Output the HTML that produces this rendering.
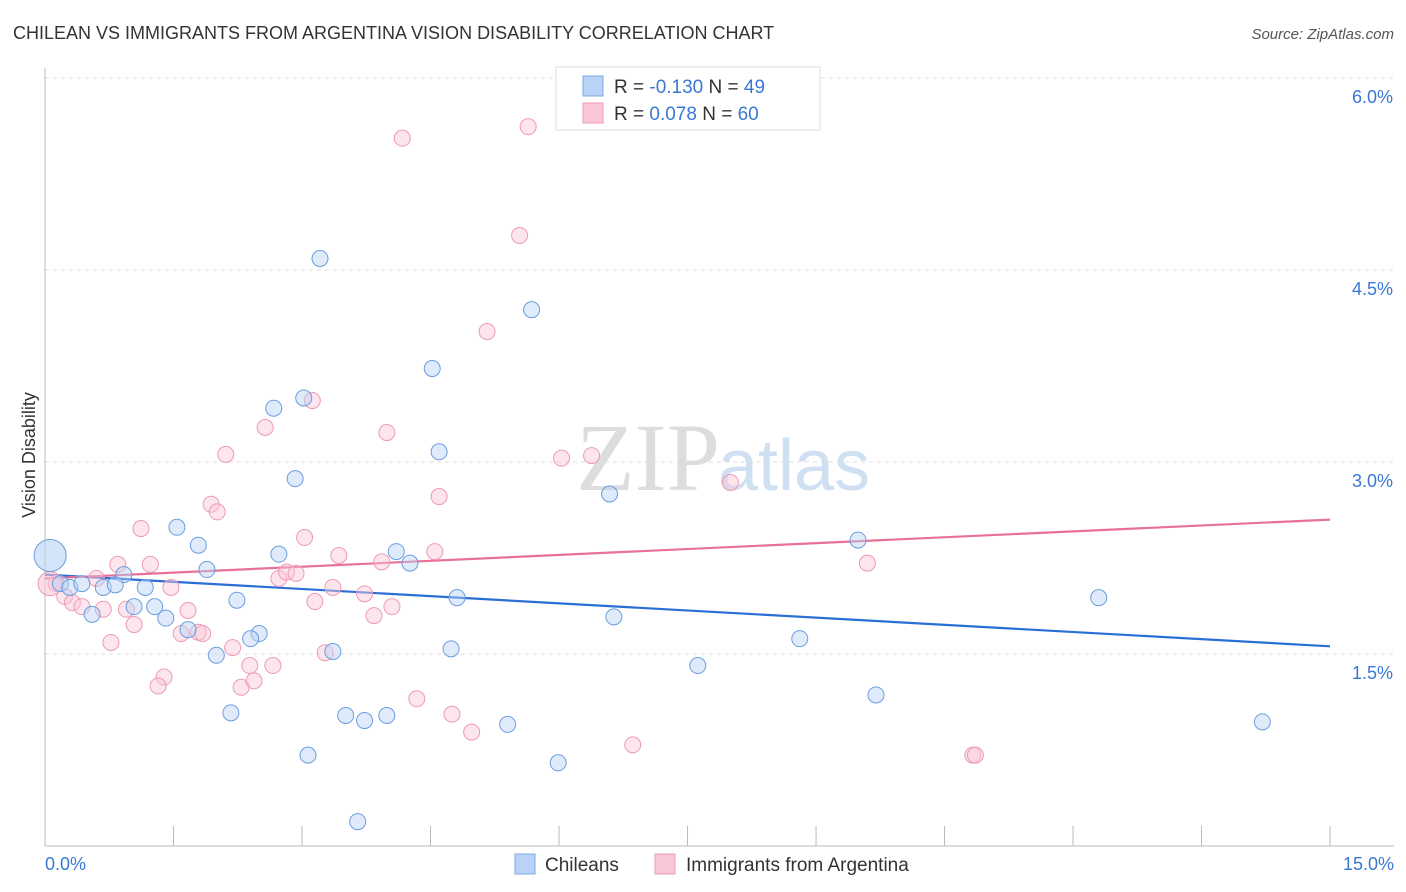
<!DOCTYPE html>
<html><head><meta charset="utf-8"><style>
body{margin:0;background:#fff;font-family:"Liberation Sans",sans-serif;}
#wrap{position:relative;width:1406px;height:892px;overflow:hidden;}
</style></head><body>
<div id="wrap">
<svg id="chart" width="1406" height="892" xmlns="http://www.w3.org/2000/svg">
<text x="13" y="39" font-size="18" fill="#333">CHILEAN VS IMMIGRANTS FROM ARGENTINA VISION DISABILITY CORRELATION CHART</text>
<text x="1394" y="39" font-size="15" fill="#555" font-style="italic" text-anchor="end">Source: ZipAtlas.com</text>
<text x="720" y="490" font-size="96" fill="#ddd" font-family="Liberation Serif,serif" text-anchor="end">ZIP</text>
<text x="718" y="490" font-size="72" fill="#cfe0f2">atlas</text>
<g id="grid"></g><g id="axes"></g><g id="trend"></g><g id="pts"></g>
<text x="35" y="455" font-size="18" fill="#333" text-anchor="middle" transform="rotate(-90 35 455)">Vision Disability</text>
<text x="45" y="870" font-size="18" fill="#3a78d4">0.0%</text>
<text x="1394" y="870" font-size="18" fill="#3a78d4" text-anchor="end">15.0%</text>
<g>
<rect x="556" y="67" width="264" height="63" fill="#fff" stroke="#ddd"/>
<rect x="583" y="76" width="20" height="20" fill="#b8d3f5" stroke="#7ea9e6"/>
<rect x="583" y="103" width="20" height="20" fill="#f9c6d6" stroke="#ee9ab4"/>
<text x="614" y="93" font-size="19" fill="#333">R = <tspan fill="#3a78d4">-0.130</tspan>   N = <tspan fill="#3a78d4">49</tspan></text>
<text x="614" y="120" font-size="19" fill="#333">R =  <tspan fill="#3a78d4">0.078</tspan>   N = <tspan fill="#3a78d4">60</tspan></text>
</g>
<g>
<rect x="515" y="854" width="20" height="20" fill="#b8d3f5" stroke="#7ea9e6"/>
<text x="545" y="871" font-size="19" fill="#333">Chileans</text>
<rect x="655" y="854" width="20" height="20" fill="#f9c6d6" stroke="#ee9ab4"/>
<text x="686" y="871" font-size="19" fill="#333">Immigrants from Argentina</text>
</g>
</svg>
</div>
<script>
const yTicks=[1.5,3.0,4.5,6.0];
const yTickLabels=["1.5%","3.0%","4.5%","6.0%"];
const xTicks=[0,1.5,3,4.5,6,7.5,9,10.5,12,13.5,15];
const chileX=[3.21,5.68,4.52,3.02,2.67,4.60,2.92,6.59,1.54,1.79,2.73,4.10,4.26,1.89,0.92,0.18,0.29,0.43,0.68,0.82,1.17,2.24,1.28,1.04,0.55,1.41,4.81,6.64,1.67,2.50,2.40,3.36,4.74,2.00,7.62,8.81,12.30,9.49,9.70,14.21,2.17,3.51,3.73,3.99,5.40,3.07,5.99,3.65,0.06];
const chileY=[4.59,4.19,3.73,3.50,3.42,3.08,2.87,2.75,2.49,2.35,2.28,2.30,2.21,2.16,2.12,2.05,2.02,2.05,2.02,2.04,2.02,1.92,1.87,1.87,1.81,1.78,1.94,1.79,1.69,1.66,1.62,1.52,1.54,1.49,1.41,1.62,1.94,2.39,1.18,0.97,1.04,1.02,0.98,1.02,0.95,0.71,0.65,0.19,2.27];
const argX=[4.17,5.64,5.54,5.16,3.12,2.57,3.99,2.11,6.03,6.38,8.00,4.60,1.94,2.01,1.12,3.03,4.55,3.43,3.93,9.60,0.85,1.23,0.60,2.73,2.82,2.93,1.47,3.36,0.13,0.23,0.32,0.43,0.68,0.95,3.73,3.15,4.05,3.84,1.67,1.04,1.59,1.79,1.84,0.77,2.19,3.27,2.39,2.66,1.39,1.32,2.29,2.44,4.34,4.75,4.98,6.86,10.83,10.86,0.06];
const argY=[5.53,5.62,4.77,4.02,3.48,3.27,3.23,3.06,3.03,3.05,2.84,2.73,2.67,2.61,2.48,2.41,2.30,2.27,2.22,2.21,2.20,2.20,2.09,2.09,2.14,2.13,2.02,2.02,2.05,1.95,1.90,1.87,1.85,1.85,1.97,1.91,1.87,1.80,1.84,1.73,1.66,1.67,1.66,1.59,1.55,1.51,1.41,1.41,1.32,1.25,1.24,1.29,1.15,1.03,0.89,0.79,0.71,0.71,2.05];
const chileTrend=[2.12,1.56];
const argTrend=[2.09,2.55];
const NS="http://www.w3.org/2000/svg";
const xs=v=>45+v*85.67, ys=v=>654-(v-1.5)*128;
function mk(tag,attrs,parent){const e=document.createElementNS(NS,tag);for(const k in attrs)e.setAttribute(k,attrs[k]);document.getElementById(parent).appendChild(e);return e;}
yTicks.forEach((t,i)=>{
 const l=mk('line',{x1:45,x2:1394,y1:ys(t),y2:ys(t),stroke:'#ddd','stroke-dasharray':'4,4'},'grid');
 
 
 const tx=mk('text',{x:1393,y:ys(t)+25,'font-size':18,fill:'#3a78d4','text-anchor':'end'},'grid');
 tx.textContent=yTickLabels[i];
 
 
});
const ya=mk('line',{x1:45,x2:45,y1:68,y2:846,stroke:'#bbb'},'axes');


const xa=mk('line',{x1:45,x2:1394,y1:846,y2:846,stroke:'#bbb'},'axes');


xTicks.forEach(t=>{
 const l=mk('line',{x1:xs(t),x2:xs(t),y1:826,y2:846,stroke:'#bbb'},'axes');
 
 
});
function pts(X,Y,fill,stroke,name){X.forEach((x,i)=>{
 const big=(i===X.length-1);
 const c=mk('circle',{cx:xs(x),cy:ys(Y[i]),r:big?(name==='chilean-point'?16:12):8,fill:fill,'fill-opacity':big?0.6:0.45,stroke:stroke,'stroke-width':1},'pts');
 
 
});}
pts(argX,argY,'#f9c6d6','#ee9ab4','argentina-point');
pts(chileX,chileY,'#b8d3f5','#6b9de0','chilean-point');
const t1=mk('line',{x1:xs(0),x2:xs(15),y1:ys(chileTrend[0]),y2:ys(chileTrend[1]),stroke:'#2a6fd6','stroke-width':2.2},'trend');


const t2=mk('line',{x1:xs(0),x2:xs(15),y1:ys(argTrend[0]),y2:ys(argTrend[1]),stroke:'#e8709a','stroke-width':2.2},'trend');


</script>
</body></html>
